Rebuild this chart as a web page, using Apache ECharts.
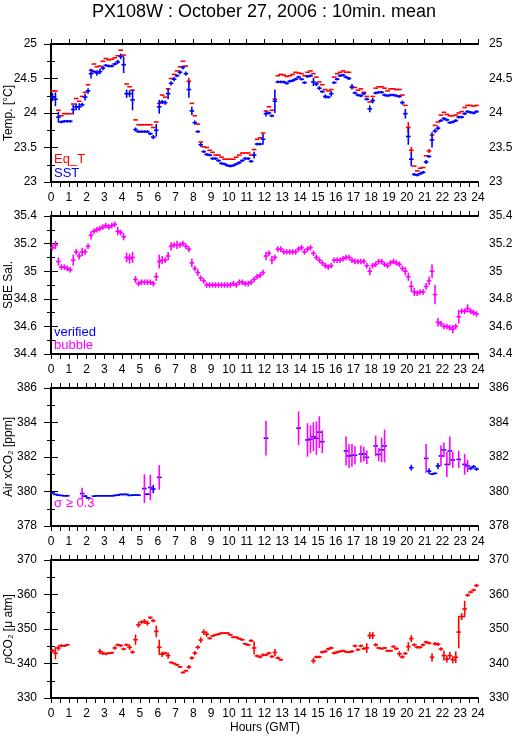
<!DOCTYPE html>
<html><head><meta charset="utf-8">
<script src="https://cdn.jsdelivr.net/npm/echarts@6/dist/echarts.min.js"></script>
<style>html,body{margin:0;padding:0;background:#fff}#c{width:515px;height:739px}</style>
</head><body><div id="c"></div>
<script>
const _ = null;
const hourTicks = [0,1,2,3,4,5,6,7,8,9,10,11,12,13,14,15,16,17,18,19,20,21,22,23,24];

// 10-minute means, index k -> interval k (00:00 + k*10min)
const sst = [
24.23,24.20,23.94,23.87,23.88,23.88,23.88,24.05,24.09,24.09,24.12,24.23,
24.32,24.57,24.60,24.58,24.60,24.65,24.69,24.68,24.68,24.71,24.74,24.82,
24.70,24.28,24.28,24.19,23.76,23.73,23.73,23.73,23.73,23.70,23.65,23.75,
24.09,24.16,24.15,24.28,24.43,24.49,24.54,24.59,24.66,24.57,24.34,24.03,
23.86,23.73,23.54,23.44,23.40,23.39,23.34,23.34,23.31,23.27,23.26,23.24,
23.23,23.24,23.26,23.28,23.31,23.34,23.34,23.30,23.39,23.55,23.55,23.62,
23.99,24.00,23.96,24.17,24.45,24.45,24.45,24.43,24.46,24.47,24.49,24.52,
24.49,24.44,24.53,24.54,24.45,24.42,24.36,24.31,24.24,24.23,24.28,24.44,
24.49,24.54,24.55,24.52,24.50,24.38,24.29,24.26,24.25,24.28,24.20,24.06,
24.18,24.29,24.30,24.30,24.26,24.25,24.26,24.26,24.25,24.24,24.15,23.99,
23.66,23.33,23.11,23.10,23.12,23.14,23.29,23.37,23.61,23.74,23.78,23.89,
23.92,23.90,23.86,23.87,23.89,23.94,23.94,23.99,24.02,24.01,24.00,24.02];
const sstSd = [
.06,.10,.08,.02,.02,.02,.02,.07,.05,.05,.03,.05,
.04,.07,.02,.04,.04,.03,.02,.02,.02,.02,.03,.04,
.12,.06,.05,.15,.03,.02,.02,.02,.02,.02,.03,.09,
.10,.03,.03,.08,.03,.03,.02,.03,.03,.03,.12,.06,
.03,.02,.03,.02,.02,.02,.02,.02,.02,.02,.02,.02,
.02,.02,.02,.02,.02,.02,.02,.02,.05,.02,.02,.08,
.04,.02,.02,.17,.02,.02,.02,.02,.02,.02,.02,.02,
.02,.02,.02,.02,.06,.03,.03,.02,.03,.02,.04,.02,
.02,.02,.02,.02,.02,.04,.02,.02,.02,.02,.02,.05,
.04,.02,.02,.02,.02,.02,.02,.02,.02,.02,.03,.07,
.12,.10,.02,.02,.02,.02,.03,.02,.11,.03,.03,.02,
.02,.02,.02,.02,.02,.02,.02,.02,.02,.02,.02,.02];
const eqT = [
24.32,24.32,24.04,23.96,23.99,23.99,23.99,24.13,24.21,24.17,24.24,24.30,
24.41,24.62,24.71,24.67,24.68,24.75,24.79,24.77,24.78,24.80,24.83,24.91,
24.84,24.42,24.38,24.33,23.90,23.83,23.83,23.83,23.83,23.83,23.79,23.87,
24.14,24.26,24.23,24.35,24.50,24.56,24.61,24.67,24.75,24.68,24.46,24.14,
23.96,23.84,23.58,23.51,23.50,23.46,23.43,23.39,23.39,23.36,23.33,23.33,
23.33,23.33,23.36,23.39,23.42,23.42,23.42,23.39,23.47,23.62,23.64,23.71,
24.03,24.09,24.04,24.20,24.54,24.56,24.55,24.53,24.54,24.56,24.59,24.58,
24.57,24.54,24.59,24.61,24.57,24.52,24.45,24.41,24.34,24.32,24.34,24.52,
24.57,24.59,24.61,24.59,24.59,24.37,24.37,24.33,24.35,24.30,24.24,24.16,
24.24,24.36,24.38,24.38,24.36,24.32,24.35,24.35,24.34,24.34,24.26,24.11,
23.79,23.46,23.23,23.16,23.20,23.21,23.38,23.45,23.68,23.82,23.87,23.97,
24.01,23.98,23.96,23.96,23.97,24.00,24.02,24.08,24.11,24.11,24.10,24.11];
const eqTSd = [
0,0,0,0,0,0,0,0,0,0,0,0, 0,0,0,0,0,0,0,0,0,0,0,0,
0,0,0,0,0,0,0,0,0,0,0,0, 0,0,0,0,0,0,0,0,0,0,.05,0,
0,0,0,0,0,0,0,0,0,0,0,0, 0,0,0,0,0,0,0,0,0,0,0,0,
0,0,0,0,0,0,0,0,0,0,0,0, 0,0,0,0,0,0,0,0,0,0,0,0,
0,0,0,0,0,0,0,0,0,0,0,0, 0,0,0,0,0,0,0,0,0,0,0,0,
.08,.05,0,0,0,0,0,.03,0,0,0,0, 0,0,0,0,0,0,0,0,0,0,0,0];

const sal = [
35.17,35.19,35.07,35.03,35.03,35.02,35.01,35.08,35.14,35.11,35.14,35.14,
35.18,35.26,35.29,35.30,35.31,35.32,35.33,35.32,35.33,35.34,35.29,35.28,
35.25,35.10,35.09,35.10,34.94,34.91,34.92,34.92,34.92,34.92,34.91,34.96,
35.07,35.08,35.08,35.11,35.18,35.19,35.19,35.19,35.20,35.18,35.16,35.06,
35.02,34.99,34.95,34.93,34.90,34.90,34.90,34.90,34.90,34.90,34.90,34.90,
34.90,34.91,34.90,34.92,34.92,34.91,34.91,34.92,34.94,34.96,34.97,34.99,
35.11,35.13,35.08,35.10,35.16,35.16,35.14,35.14,35.14,35.14,35.14,35.16,
35.17,35.14,35.16,35.17,35.13,35.10,35.08,35.06,35.04,35.03,35.04,35.08,
35.08,35.08,35.09,35.10,35.10,35.08,35.07,35.07,35.07,35.07,35.04,35.00,
35.04,35.05,35.07,35.07,35.05,35.04,35.06,35.07,35.06,35.05,35.02,35.00,
34.96,34.89,34.85,34.84,34.85,34.85,34.89,34.93,35.00,34.83,34.63,34.62,
34.60,34.60,34.59,34.58,34.60,34.67,34.71,34.71,34.73,34.71,34.70,34.69];
const salSd = [
.02,.03,.03,.02,.02,.02,.02,.04,.02,.025,.03,.02,
.02,.03,.02,.02,.02,.02,.02,.02,.02,.02,.03,.02,
.025,.035,.035,.04,.025,.02,.02,.02,.02,.02,.02,.03,
.05,.03,.02,.03,.03,.02,.03,.02,.02,.02,.02,.03,
.02,.025,.02,.02,.02,.02,.02,.02,.02,.02,.02,.02,
.02,.02,.02,.02,.02,.02,.02,.02,.02,.02,.02,.02,
.03,.02,.03,.02,.02,.02,.02,.02,.02,.02,.02,.02,
.02,.02,.02,.02,.02,.02,.02,.02,.02,.02,.02,.02,
.02,.02,.02,.02,.02,.02,.02,.02,.02,.02,.02,.03,
.02,.02,.02,.02,.02,.02,.02,.02,.02,.02,.02,.03,
.03,.04,.03,.02,.02,.02,.025,.03,.05,.07,.03,.02,
.02,.02,.02,.03,.02,.05,.02,.02,.03,.02,.02,.02];

const xco2 = [
379.92,379.83,379.79,379.77,379.75,379.75,_,_,_,_,379.88,379.73,
379.63,_,379.73,379.75,379.75,379.75,379.75,379.75,379.75,379.77,379.79,379.83,
379.83,379.83,379.77,379.79,379.79,379.79,_,380.17,379.84,380.23,380.14,_,
380.82,_,_,_,_,_,_,_,_,_,_,_,
_,_,_,_,_,_,_,_,_,_,_,_,
_,_,_,_,_,_,_,_,_,_,_,_,
383.09,_,_,_,_,_,_,_,_,_,_,383.67,
_,_,382.99,383.03,383.18,383.09,383.44,382.89,_,_,_,_,
_,_,_,382.35,382.06,382.10,382.10,_,382.17,382.17,381.98,_,
_,382.64,382.15,382.41,382.64,_,_,_,_,_,_,_,
_,381.38,_,_,_,_,381.92,381.18,381.01,381.05,381.48,382.06,
382.41,381.57,382.35,381.83,_,381.86,_,381.57,381.48,381.34,381.44,381.30];
const xco2Sd = [
.04,.04,.03,.03,.03,.03,0,0,0,0,.34,.05,
.04,0,.03,.03,.03,.03,.03,.03,.03,.04,.04,.04,
.04,.04,.03,.03,.03,.03,0,.83,.04,.74,.24,0,
.71,0,0,0,0,0,0,0,0,0,0,0,
0,0,0,0,0,0,0,0,0,0,0,0,
0,0,0,0,0,0,0,0,0,0,0,0,
1.0,0,0,0,0,0,0,0,0,0,0,.97,
0,0,.97,.81,.84,.97,.92,.66,0,0,0,0,
0,0,0,.84,.70,.66,.53,0,.49,.43,.39,0,
0,.60,.39,.71,.95,0,0,0,0,0,0,0,
0,.17,0,0,0,0,.83,.17,.05,.05,.17,.60,
.43,.73,.84,.46,0,.50,0,.60,.35,.10,.10,.10];

const pco2 = [
343.7,343.0,344.5,345.2,345.1,345.4,_,_,_,_,_,_,
_,_,_,_,343.5,343.0,342.8,343.0,343.1,344.5,345.4,345.2,
344.2,345.4,344.7,343.3,346.9,351.2,352.0,352.2,351.7,353.3,352.4,349.3,
344.7,342.7,343.0,342.3,340.3,340.0,339.6,339.0,337.4,337.9,339.0,341.6,
343.0,344.7,346.8,349.1,348.5,347.3,348.0,348.3,348.5,348.8,348.8,348.8,
348.3,347.6,347.6,347.2,346.9,345.7,345.4,346.6,344.5,342.2,341.9,342.5,
342.5,343.0,342.0,343.2,341.6,341.1,_,_,_,_,_,_,
_,_,_,_,340.8,341.9,341.9,343.3,343.5,344.2,344.5,343.0,
343.3,343.5,343.7,343.4,343.3,343.5,345.1,344.0,345.1,344.3,344.5,348.1,
348.1,345.4,344.5,344.3,344.5,343.7,343.7,344.9,344.3,342.8,341.9,342.9,
344.9,347.2,345.4,344.7,344.7,345.4,346.2,345.9,341.8,345.7,345.6,344.2,
342.3,341.3,342.3,341.1,341.8,349.1,353.6,355.8,359.8,360.7,361.3,362.6];
const pco2Sd = [
.6,1.8,.8,.4,.3,.3,0,0,0,0,0,0,
0,0,0,0,.8,.5,.4,.3,.3,.5,.4,.4,
.4,.4,.8,.5,1.5,.8,.5,.7,.7,.4,.5,1.7,
2.2,.8,.4,.9,.3,.3,.3,.3,.3,.3,.6,.5,
.6,.6,.8,.8,.8,.4,.3,.3,.3,.3,.3,.3,
.3,.3,.3,.3,.3,.3,.3,.4,1.9,.4,.4,.4,
.4,.4,.4,1.0,.4,.3,0,0,0,0,0,0,
0,0,0,0,.8,.4,.4,.4,.4,.4,.4,.4,
.4,.3,.3,.3,.3,.4,.4,.4,.4,.4,1.4,1.0,
1.0,.5,.3,.3,.3,.3,.3,.4,.4,.8,.5,.4,
1.3,1.0,.5,.4,.4,.4,.4,.4,1.2,.5,.5,.5,
1.4,1.0,1.0,1.0,1.7,4.7,1.0,2.4,.5,.4,.4,.5];

const RED = '#ff0000', BLUE = '#0000ff', MAG = '#ff00ff';
const FONT = '"Liberation Sans", Arial, Helvetica, sans-serif';

function toData(vals, sds) {
  const out = [];
  vals.forEach((v, i) => { if (v !== null) out.push([(i + 0.5) / 6, v, sds[i] || 0]); });
  return out;
}
function crossSeries(idx, data, hColor, vColorFn, z) {
  return {
    type: 'custom', xAxisIndex: 2 * idx, yAxisIndex: 2 * idx, z: z || 2,
    data: data, encode: { x: 0, y: 1 },
    renderItem: function (params, api) {
      const t = api.value(0), v = api.value(1), sd = api.value(2);
      const hw = 0.13;
      const a = api.coord([t - hw, v]), b = api.coord([t + hw, v]);
      const children = [{ type: 'line', shape: { x1: a[0], y1: a[1], x2: b[0], y2: b[1] },
        style: { stroke: hColor, lineWidth: 1.6 } }];
      if (sd > 0) {
        const c = api.coord([t, v - sd]), d = api.coord([t, v + sd]);
        children.push({ type: 'line', shape: { x1: c[0], y1: c[1], x2: d[0], y2: d[1] },
          style: { stroke: vColorFn(sd), lineWidth: 1.6 } });
      }
      return { type: 'group', children: children };
    }
  };
}

const tops = [44, 216, 388, 560];
const yCfg = [
  { min: 23, max: 25, interval: 0.5, name: 'Temp. [°C]' },
  { min: 34.4, max: 35.4, interval: 0.2, name: 'SBE Sal.' },
  { min: 378, max: 386, interval: 2, name: 'Air xCO₂ [ppm]' },
  { min: 330, max: 370, interval: 10, name: '{i|p}CO₂ [μ atm]' }
];
const axLine = { show: true, lineStyle: { color: '#000', width: 2 } };
const grid = [], xAxis = [], yAxis = [];
tops.forEach((top, i) => {
  grid.push({ left: 51, top: top, width: 427, height: 138, containLabel: false, outerBoundsMode: 'none' });
  xAxis.push({ gridIndex: i, type: 'value', min: 0, max: 24, interval: 1, position: 'bottom',
    axisLine: axLine, axisTick: { length: 5, lineStyle: { color: '#000', width: 1 } },
    minorTick: { show: true, splitNumber: 2, length: 5, lineStyle: { color: '#000', width: 1 } },
    axisLabel: { color: '#000', fontSize: 12, fontFamily: FONT, margin: 10,
      formatter: v => String(hourTicks[v]) },
    splitLine: { show: false }, minorSplitLine: { show: false } });
  xAxis.push({ gridIndex: i, type: 'value', min: 0, max: 24, interval: 1, position: 'top',
    axisLine: axLine, axisTick: { length: 5, lineStyle: { color: '#000', width: 1 } },
    minorTick: { show: i > 0, splitNumber: 2, length: 5, lineStyle: { color: '#000', width: 1 } },
    axisLabel: { show: false }, splitLine: { show: false } });
  const c = yCfg[i];
  const common = { gridIndex: i, type: 'value', min: c.min, max: c.max, interval: c.interval,
    axisLine: axLine, axisTick: { length: 7, lineStyle: { color: '#000', width: 1 } },
    minorTick: { show: true, splitNumber: 2, length: 4, lineStyle: { color: '#000', width: 1 } },
    splitLine: { show: false } };
  yAxis.push(Object.assign({}, common, { position: 'left', name: c.name, nameLocation: 'middle', nameGap: 36,
    nameMoveOverlap: false,
    nameTextStyle: { color: '#000', fontSize: 12, fontFamily: FONT,
      rich: { i: { fontStyle: 'italic', fontSize: 12, fontFamily: FONT, color: '#000' } } },
    axisLabel: { color: '#000', fontSize: 12, fontFamily: FONT, margin: 14 } }));
  yAxis.push(Object.assign({}, common, { position: 'right',
    axisLabel: { color: '#000', fontSize: 12, fontFamily: FONT, margin: 11 } }));
});

const series = [
  crossSeries(0, toData(eqT, eqTSd), RED, () => RED, 2),
  crossSeries(0, toData(sst, sstSd), BLUE, () => BLUE, 3),
  crossSeries(1, toData(sal, salSd), MAG, () => MAG, 2),
  crossSeries(2, toData(xco2, xco2Sd), BLUE, sd => (sd >= 0.3 ? MAG : BLUE), 2),
  crossSeries(3, toData(pco2, pco2Sd), RED, () => RED, 2)
];

function label(x, y, text, color, size) {
  return { type: 'text', x: x, y: y, style: { text: text, fill: color, font: (size || 13) + 'px ' + FONT,
    textVerticalAlign: 'bottom' }, z: 10 };
}
const graphic = [
  { type: 'text', x: 264, y: 12, style: { text: 'PX108W : October 27, 2006 : 10min. mean', fill: '#000',
    font: '18px ' + FONT, textAlign: 'center', textVerticalAlign: 'middle' } },
  label(54, 166, 'Eq_T', RED), label(54, 180, 'SST', BLUE),
  label(54, 339, 'verified', BLUE), label(54, 352, 'bubble', MAG),
  label(54, 510, 'σ ≥ 0.3', MAG),
  { type: 'text', x: 265, y: 728, style: { text: 'Hours (GMT)', fill: '#000', font: '12px ' + FONT,
    textAlign: 'center', textVerticalAlign: 'middle' } }
];

const chart = echarts.init(document.getElementById('c'), null, { renderer: 'canvas' });
chart.setOption({ animation: false, backgroundColor: '#fff', grid, xAxis, yAxis, series, graphic });
</script></body></html>
